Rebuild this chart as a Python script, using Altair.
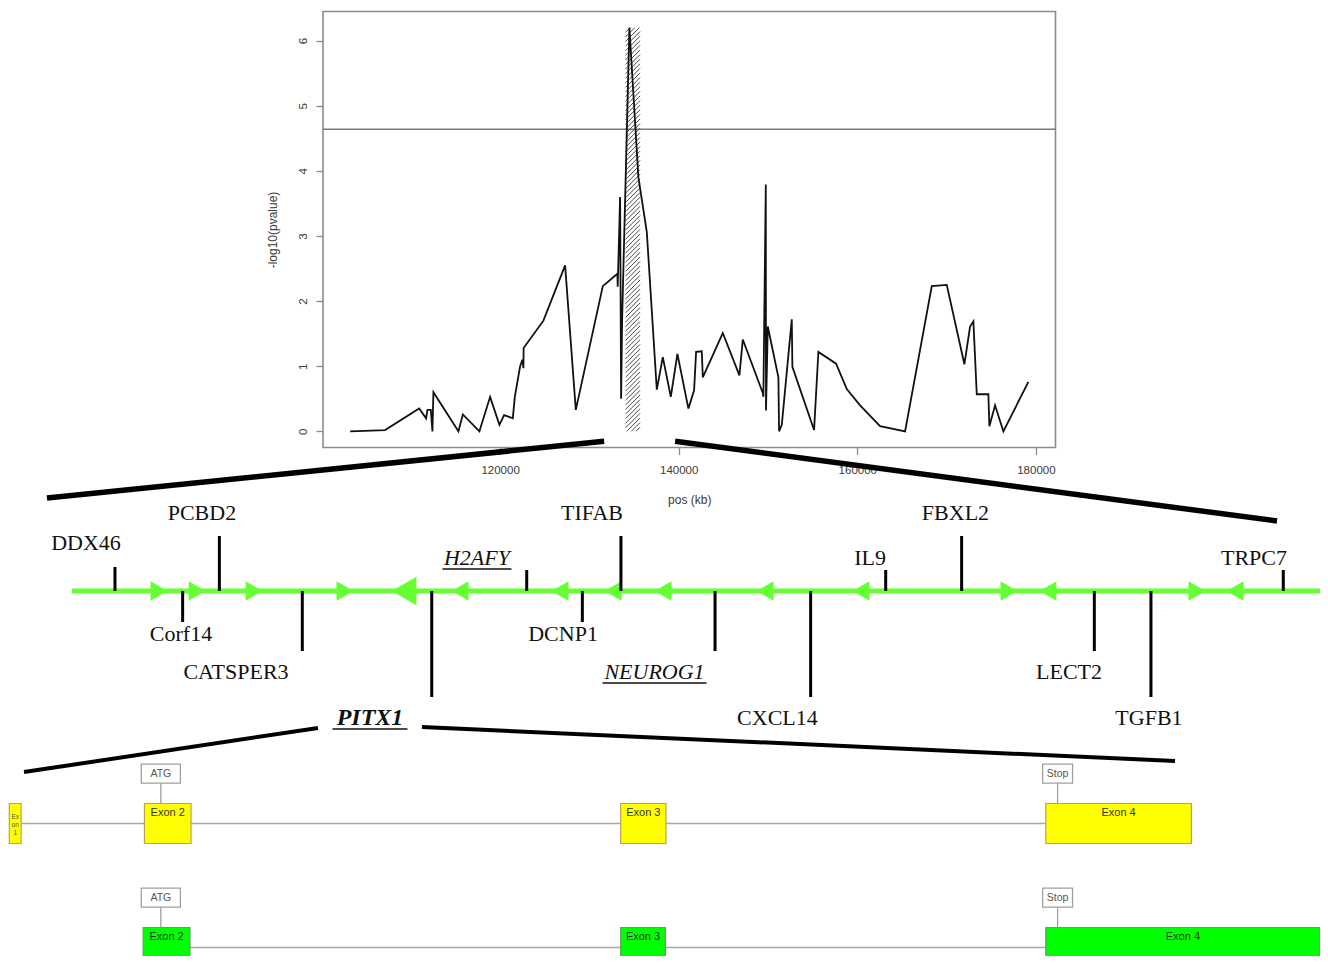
import altair as alt
import pandas as pd

# ---------------- association scan (top panel) ----------------
pos_kb = [103203, 107122, 110930, 111714, 111859, 112240, 112419, 112531, 115330, 115823,
          117682, 118880, 119922, 120448, 121422, 121646, 122240, 122497, 122609, 122632,
          124849, 127279, 128477, 131500, 133135, 133169, 133438, 133550, 133662, 134479,
          135487, 136428, 137547, 138219, 139115, 139854, 141086, 141724, 141948, 142586,
          142698, 144938, 146797, 147178, 149417, 149484, 149753, 149775, 149977, 151164,
          151242, 151544, 152664, 152731, 155161, 155643, 157625, 158823, 160313, 162552,
          165352, 168342, 170021, 171992, 172631, 173001, 173381, 174680, 174792, 175430,
          176359, 179159]
neglog10_p = [0.00, 0.02, 0.35, 0.20, 0.33, 0.33, 0.00, 0.60, 0.00, 0.26,
              0.00, 0.53, 0.10, 0.25, 0.20, 0.53, 1.00, 1.10, 0.97, 1.28,
              1.70, 2.55, 0.33, 2.23, 2.42, 2.22, 3.60, 0.50, 1.70, 6.20,
              3.90, 3.06, 0.64, 1.14, 0.53, 1.19, 0.35, 0.63, 1.22, 1.23,
              0.83, 1.51, 0.86, 1.41, 0.59, 0.53, 3.79, 0.32, 1.61, 0.83,
              0.00, 0.10, 1.72, 0.99, 0.02, 1.22, 1.04, 0.65, 0.40, 0.08,
              0.00, 2.23, 2.25, 1.03, 1.61, 1.69, 0.57, 0.57, 0.08, 0.40,
              0.00, 0.76]
threshold = 4.64
hatch_kb = [134050, 135677]
hatch_top = 6.2
x_ticks = [120000, 140000, 160000, 180000]
y_ticks = [0, 1, 2, 3, 4, 5, 6]
zoom_kb = [131646, 139597]

# ---------------- gene track (schematic position along the track, %) ----------------
gene_names = ["DDX46", "Corf14", "PCBD2", "CATSPER3", "PITX1", "H2AFY", "DCNP1", "TIFAB",
              "NEUROG1", "CXCL14", "IL9", "FBXL2", "LECT2", "TGFB1", "TRPC7"]
gene_pos = [3.43, 8.83, 11.76, 18.38, 28.71, 36.29, 40.73, 43.81,
            51.32, 58.95, 64.94, 71.00, 81.59, 86.11, 96.67]
gene_tier = [2, -1, 3, -2, -3, 1, -1, 3, -2, -3, 1, 3, -2, -3, 1]
gene_label_pos = [1.12, 8.70, 10.37, 13.09, 23.78, 32.32, 39.19, 41.50,
                  46.49, 56.30, 63.69, 70.51, 79.57, 85.95, 94.33]
gene_style = ["plain", "plain", "plain", "plain", "bolditalic", "italic", "plain", "plain",
              "italic", "plain", "plain", "plain", "plain", "plain", "plain"]
gene_underlined = ["H2AFY", "NEUROG1", "PITX1"]
arrow_pos = [6.94, 9.98, 14.53, 21.79, 26.50, 30.97, 38.95, 43.18, 47.17, 55.31,
             62.97, 74.78, 77.89, 89.78, 92.82]
arrow_dir = ["right", "right", "right", "right", "left", "left", "left", "left", "left", "left",
             "left", "right", "left", "right", "left"]
arrow_big = [False, False, False, False, True, False, False, False, False, False,
             False, False, False, False, False]
track_ends = [0, 100]
pitx1_zoom = [19.63, 27.93]

# ---------------- PITX1 transcripts (relative gene coordinate, 0-1000) ----------------
exon_row = [0, 0, 0, 0, 1, 1, 1]
exon_start = [1, 104, 467, 791, 103, 467, 791]
exon_end = [10, 139.5, 501.5, 902, 138.7, 501, 1000]
exon_label = ["Ex\non\n1", "Exon 2", "Exon 3", "Exon 4", "Exon 2", "Exon 3", "Exon 4"]
intron_row = [0, 1]
intron_start = [10, 138.7]
intron_end = [791, 791]
marker_row = [0, 0, 1, 1]
marker_label = ["ATG", "Stop", "ATG", "Stop"]
marker_pos = [116.5, 800, 116.5, 800]
transcript_zoom = [12.2, 889.5]

assert len(pos_kb) == len(neglog10_p)

# ---------------- layout (pixels on the drawing canvas) ----------------
W, H = 1312, 948


def lin(v, d, r):
    return r[0] + (v - d[0]) / (d[1] - d[0]) * (r[1] - r[0])


def inv(p, d, r):
    return d[0] + (p - r[0]) / (r[1] - r[0]) * (d[1] - d[0])


def sc(d, r):
    return alt.Scale(domain=list(d), range=list(r), nice=False, zero=False)


xmin, xmax = min(pos_kb), max(pos_kb)
ymin, ymax = min(neglog10_p), max(neglog10_p)
TOP_XD = [xmin - 0.04 * (xmax - xmin), xmax + 0.04 * (xmax - xmin)]
TOP_YD = [ymin - 0.04 * (ymax - ymin), ymax + 0.04 * (ymax - ymin)]
TOP_XR = [315, 1047.5]
TOP_YR = [439.5, 3.5]
TR_XD, TR_XR = [0, 100], [64, 1317]
TR_YD, TR_YR = [-200, 200], [783, 383]
EX_XD, EX_XR = [0, 1000], [0, 1312]
EX_YD, EX_YR = [0, 1], [815.5, 939.5]
CV_XD = CV_XR = [0, W]
CV_YD = CV_YR = [0, H]

AX_GRAY = "#8c8c8c"
TXT_GRAY = "#3a3a3a"
GREEN_TRACK = "#66ff33"
ROW_COLORS = ["#ffff00", "#00ff00"]
ROW_STROKES = ["#b4a45a", "#5f9f5f"]


def tx(field):
    return alt.X(field, type="quantitative", scale=sc(TOP_XD, TOP_XR), axis=None)


def ty(field):
    return alt.Y(field, type="quantitative", scale=sc(TOP_YD, TOP_YR), axis=None)


def trx(field):
    return alt.X(field, type="quantitative", scale=sc(TR_XD, TR_XR), axis=None)


def try_(field):
    return alt.Y(field, type="quantitative", scale=sc(TR_YD, TR_YR), axis=None)


def exx(field):
    return alt.X(field, type="quantitative", scale=sc(EX_XD, EX_XR), axis=None)


def exy(field):
    return alt.Y(field, type="quantitative", scale=sc(EX_YD, EX_YR), axis=None)


def cvx(field):
    return alt.X(field, type="quantitative", scale=sc(CV_XD, CV_XR), axis=None)


def cvy(field):
    return alt.Y(field, type="quantitative", scale=sc(CV_YD, CV_YR), axis=None)


layers = []

# ---- top panel ----
box_df = pd.DataFrame({"x": [TOP_XD[0]], "x2": [TOP_XD[1]], "y": [TOP_YD[0]], "y2": [TOP_YD[1]]})
layers.append(alt.Chart(box_df).mark_rect(fillOpacity=0, stroke=AX_GRAY, strokeWidth=1.6).encode(
    x=tx("x"), x2="x2", y=ty("y"), y2="y2"))

thr_df = pd.DataFrame({"x": [TOP_XD[0]], "x2": [TOP_XD[1]], "y": [threshold]})
layers.append(alt.Chart(thr_df).mark_rule(color="#7a7a7a", strokeWidth=1.6).encode(
    x=tx("x"), x2="x2", y=ty("y")))

# hatching of the highlighted interval (45 degree strokes)
X0 = lin(hatch_kb[0], TOP_XD, TOP_XR)
X1 = lin(hatch_kb[1], TOP_XD, TOP_XR)
Yb = lin(0, TOP_YD, TOP_YR)
Yt = lin(hatch_top, TOP_YD, TOP_YR)
wpx = X1 - X0
segs = []
c = Yt
while c < Yb + wpx:
    xs = X0 + max(0.0, c - Yb)
    xe = X0 + min(wpx, c - Yt)
    if xe > xs:
        ys = c - (xs - X0)
        ye = c - (xe - X0)
        segs.append({"x": inv(xs, TOP_XD, TOP_XR), "x2": inv(xe, TOP_XD, TOP_XR),
                     "y": inv(ys, TOP_YD, TOP_YR), "y2": inv(ye, TOP_YD, TOP_YR)})
    c += 4.6
layers.append(alt.Chart(pd.DataFrame(segs)).mark_rule(color="#4a4a4a", strokeWidth=1).encode(
    x=tx("x"), x2="x2", y=ty("y"), y2="y2"))

scan_df = pd.DataFrame({"pos": pos_kb, "p": neglog10_p})
layers.append(alt.Chart(scan_df).mark_line(color="#111111", strokeWidth=1.8, strokeJoin="miter").encode(
    x=alt.X("pos:Q", scale=sc(TOP_XD, TOP_XR),
            axis=alt.Axis(values=x_ticks, format="d", title="pos (kb)", offset=-(H - TOP_YR[0]),
                          domain=False, grid=False, tickSize=7, tickColor=AX_GRAY, tickWidth=1.3,
                          labelPadding=10, labelFont="Liberation Sans", labelFontSize=11.5,
                          labelColor=TXT_GRAY, labelFlush=False, labelOverlap=False,
                          titleFont="Liberation Sans", titleFontSize=12, titleFontWeight="normal",
                          titleColor=TXT_GRAY, titlePadding=18)),
    y=alt.Y("p:Q", scale=sc(TOP_YD, TOP_YR),
            axis=alt.Axis(values=y_ticks, format="d", title="-log10(pvalue)", offset=-TOP_XR[0],
                          domain=False, grid=False, tickSize=7, tickColor=AX_GRAY, tickWidth=1.3,
                          labelAngle=270, labelAlign="center", labelBaseline="bottom",
                          labelPadding=8, labelFont="Liberation Sans", labelFontSize=11.5,
                          labelColor=TXT_GRAY, labelFlush=False, labelOverlap=False,
                          titleFont="Liberation Sans", titleFontSize=12, titleFontWeight="normal",
                          titleColor=TXT_GRAY, titlePadding=18)),
))

# ---- gene track ----
TIER = {1: (21, 33), 2: (24, 48), 3: (55, 78), -1: (-31, -43), -2: (-60, -81), -3: (-106, -127)}
track_df = pd.DataFrame({"x": [track_ends[0]], "x2": [track_ends[1]], "y": [0]})
layers.append(alt.Chart(track_df).mark_rule(color=GREEN_TRACK, strokeWidth=5).encode(
    x=trx("x"), x2="x2", y=try_("y")))

arr_df = pd.DataFrame({"x": arrow_pos, "dir": arrow_dir, "big": arrow_big, "y": 0})
for d, shape in (("right", "triangle-right"), ("left", "triangle-left")):
    for big, size in ((False, 380), (True, 820)):
        sub = arr_df[(arr_df.dir == d) & (arr_df.big == big)]
        if len(sub):
            layers.append(alt.Chart(sub).mark_point(shape=shape, filled=True, size=size,
                                                    color=GREEN_TRACK, opacity=1).encode(
                x=trx("x"), y=try_("y")))

gene_df = pd.DataFrame({
    "name": gene_names, "pos": gene_pos, "lpos": gene_label_pos, "style": gene_style,
    "y0": 0, "y1": [TIER[t][0] for t in gene_tier], "ly": [TIER[t][1] for t in gene_tier]})
layers.append(alt.Chart(gene_df).mark_rule(color="#000000", strokeWidth=3).encode(
    x=trx("pos"), y=try_("y0"), y2="y1"))

for style, kw in (("plain", dict(fontSize=22)),
                  ("italic", dict(fontSize=22, fontStyle="italic")),
                  ("bolditalic", dict(fontSize=24, fontStyle="italic", fontWeight="bold"))):
    sub = gene_df[gene_df["style"] == style]
    layers.append(alt.Chart(sub).mark_text(font="Liberation Serif", color="#111111",
                                           align="center", baseline="middle", **kw).encode(
        x=trx("lpos"), y=try_("ly"), text="name:N"))

UL_W = {"H2AFY": 69, "NEUROG1": 104, "PITX1": 75}
ul_rows = []
for n in gene_underlined:
    i = gene_names.index(n)
    half = UL_W[n] / 2 * (TR_XD[1] - TR_XD[0]) / (TR_XR[1] - TR_XR[0])
    ul_rows.append({"x": gene_label_pos[i] - half, "x2": gene_label_pos[i] + half,
                    "y": TIER[gene_tier[i]][1] - 11})
layers.append(alt.Chart(pd.DataFrame(ul_rows)).mark_rule(color="#111111", strokeWidth=1.5).encode(
    x=trx("x"), x2="x2", y=try_("y")))

# ---- PITX1 transcripts ----
BOX_H = 20 / 124
intr_df = pd.DataFrame({"row": intron_row, "s": intron_start, "e": intron_end})
layers.append(alt.Chart(intr_df).mark_rule(color="#a8a8a8", strokeWidth=1.6).encode(
    x=exx("s"), x2="e", y=exy("row")))

ex_df = pd.DataFrame({"row": exon_row, "s": exon_start, "e": exon_end, "label": exon_label})
ex_df["top"] = ex_df["row"] - BOX_H
ex_df["bot"] = ex_df["row"] + BOX_H
ex_df["mid"] = (ex_df["s"] + ex_df["e"]) / 2
ex_df["ly"] = ex_df["row"] - BOX_H + 9 / 124
for r in (0, 1):
    sub = ex_df[ex_df.row == r]
    layers.append(alt.Chart(sub).mark_rect(fill=ROW_COLORS[r], stroke=ROW_STROKES[r], strokeWidth=1.2).encode(
        x=exx("s"), x2="e", y=exy("top"), y2="bot"))
big_lab = ex_df[~ex_df["label"].str.contains("\n")]
layers.append(alt.Chart(big_lab).mark_text(font="Liberation Sans", fontSize=11, color="#333333",
                                           align="center", baseline="middle").encode(
    x=exx("mid"), y=exy("ly"), text="label:N"))
small_lab = ex_df[ex_df["label"].str.contains("\n")].copy()
small_lab["ly"] = small_lab["row"] - 0.075
layers.append(alt.Chart(small_lab).mark_text(font="Liberation Sans", fontSize=6.5, color="#555555",
                                             align="center", baseline="top", lineBreak="\n",
                                             lineHeight=8).encode(
    x=exx("mid"), y=exy("ly"), text="label:N"))

HALF_W = {"ATG": 14.9, "Stop": 11.4}
mk_df = pd.DataFrame({"row": marker_row, "label": marker_label, "pos": marker_pos})
mk_df["c"] = mk_df["row"] - 0.398
mk_df["t"] = mk_df["c"] - 10 / 124
mk_df["b"] = mk_df["c"] + 9 / 124
mk_df["x1"] = [p - HALF_W[l] for p, l in zip(marker_pos, marker_label)]
mk_df["x2"] = [p + HALF_W[l] for p, l in zip(marker_pos, marker_label)]
mk_df["stem_end"] = mk_df["row"] - BOX_H
layers.append(alt.Chart(mk_df).mark_rule(color="#a0a0a0", strokeWidth=1.3).encode(
    x=exx("pos"), y=exy("b"), y2="stem_end"))
layers.append(alt.Chart(mk_df).mark_rect(fill="white", stroke="#a0a0a0", strokeWidth=1.3).encode(
    x=exx("x1"), x2="x2", y=exy("t"), y2="b"))
layers.append(alt.Chart(mk_df).mark_text(font="Liberation Sans", fontSize=10.5, color="#555555",
                                         align="center", baseline="middle").encode(
    x=exx("pos"), y=exy("c"), text="label:N"))

# ---- zoom connectors ----
ytop = -0.153
conn = [
    (lin(zoom_kb[0], TOP_XD, TOP_XR), lin(ytop, TOP_YD, TOP_YR),
     lin(track_ends[0] - 2.0, TR_XD, TR_XR), lin(93, TR_YD, TR_YR), 5.5),
    (lin(zoom_kb[1], TOP_XD, TOP_XR), lin(ytop, TOP_YD, TOP_YR),
     lin(96.17, TR_XD, TR_XR), lin(70, TR_YD, TR_YR), 5.5),
    (lin(pitx1_zoom[0], TR_XD, TR_XR), lin(-137, TR_YD, TR_YR),
     lin(transcript_zoom[0], EX_XD, EX_XR), lin(-0.415, EX_YD, EX_YR), 4),
    (lin(pitx1_zoom[1], TR_XD, TR_XR), lin(-136, TR_YD, TR_YR),
     lin(transcript_zoom[1], EX_XD, EX_XR), lin(-0.504, EX_YD, EX_YR), 4),
]
for x1, y1, x2, y2, w in conn:
    cdf = pd.DataFrame({"x": [x1], "y": [y1], "x2": [x2], "y2": [y2]})
    layers.append(alt.Chart(cdf).mark_rule(color="#000000", strokeWidth=w).encode(
        x=cvx("x"), x2="x2", y=cvy("y"), y2="y2"))

chart = alt.layer(*layers).resolve_scale(x="independent", y="independent").properties(
    width=W, height=H, padding=0, background="white",
    autosize=alt.AutoSizeParams(type="none"),
).configure_view(stroke="transparent")

chart.save("out.html", embed_options={"renderer": "svg", "actions": False})
